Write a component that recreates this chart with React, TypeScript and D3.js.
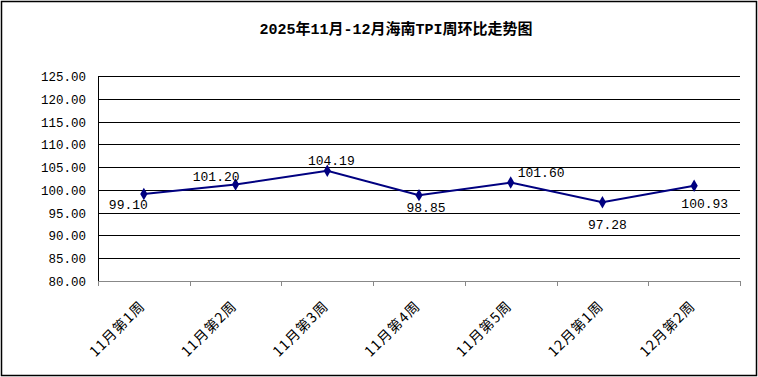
import React from "react";
import * as d3 from "d3";

const title = "2025年11月-12月海南TPI周环比走势图";
const categories = ["11月第1周", "11月第2周", "11月第3周", "11月第4周", "11月第5周", "12月第1周", "12月第2周"];
const values = [99.1, 101.2, 104.19, 98.85, 101.6, 97.28, 100.93];
const yTicks = [80, 85, 90, 95, 100, 105, 110, 115, 120, 125];
const labelPlacement = ["belowLeft", "aboveLeft", "above", "below", "right", "below2", "belowRight"];

const W = 758, H = 377;
const M = { left: 98, right: 740, top: 76, bottom: 281 };
const mono = "'SimSun', 'Liberation Mono', 'DejaVu Sans Mono', monospace";
const cjk = "'SimSun', 'Noto Sans CJK SC', serif";
const titleFont = "'SimSun', 'Liberation Mono', 'Noto Sans CJK SC', monospace";

export default function App() {
  const x = d3.scaleBand<string>().domain(categories).range([M.left, M.right]);
  const y = d3.scaleLinear().domain([80, 125]).range([M.bottom, M.top]);
  const cx = (c: string) => (x(c) as number) + x.bandwidth() / 2;
  const line = d3.line<number>().x((_, i) => cx(categories[i])).y((v) => y(v));
  const diamond = d3.symbol().type(d3.symbolDiamond).size(45)();
  const boundaries = d3.range(categories.length + 1).map((i) => M.left + i * x.bandwidth());

  const labelPos = (p: string, px: number, py: number) => {
    switch (p) {
      case "belowLeft": return { x: px + 4, y: py + 15, a: "end" };
      case "aboveLeft": return { x: px + 4, y: py - 3, a: "end" };
      case "above": return { x: px + 4, y: py - 6, a: "middle" };
      case "below": return { x: px + 7, y: py + 17, a: "middle" };
      case "below2": return { x: px + 5, y: py + 27, a: "middle" };
      case "right": return { x: px + 7, y: py - 6, a: "start" };
      case "belowRight": return { x: px + 34, y: py + 22, a: "end" };
      default: return { x: px, y: py - 6, a: "middle" };
    }
  };

  return (
    <svg width={W} height={H} style={{ position: "fixed", left: 0, top: 0, background: "#fff" }}>
      <rect x={1.5} y={1.5} width={W - 3} height={H - 3} fill="#fff" stroke="#000" strokeWidth={1.5} />
      <text x={396} y={34} textAnchor="middle" fontFamily={titleFont} fontSize={15} fontWeight="bold" fill="#000">{title}</text>
      {yTicks.slice(1).map((t) => (
        <line key={t} x1={M.left} x2={M.right} y1={Math.round(y(t)) + 0.5} y2={Math.round(y(t)) + 0.5} stroke="#000" strokeWidth={1} />
      ))}
      {yTicks.map((t) => (
        <text key={"l" + t} x={86} y={y(t) + 5} textAnchor="end" fontFamily={mono} fontSize={12.5} fill="#000">{t.toFixed(2)}</text>
      ))}
      <line x1={M.left + 0.5} x2={M.left + 0.5} y1={M.top} y2={M.bottom} stroke="#000" strokeWidth={1} />
      <line x1={M.left} x2={M.right} y1={M.bottom + 0.5} y2={M.bottom + 0.5} stroke="#888" strokeWidth={1} />
      {boundaries.map((b, i) => (
        <line key={"tk" + i} x1={Math.round(b) + 0.5} x2={Math.round(b) + 0.5} y1={M.bottom} y2={M.bottom + 5} stroke="#888" strokeWidth={1} />
      ))}
      {categories.map((c) => (
        <text key={c} transform={`translate(${cx(c) + 2},${M.bottom + 26}) rotate(-45)`} textAnchor="end" fontFamily={cjk} fontSize={14} letterSpacing={1} fill="#000">{c}</text>
      ))}
      <path d={line(values) || ""} fill="none" stroke="#000080" strokeWidth={2} />
      {values.map((v, i) => (
        <path key={"m" + i} d={diamond || ""} transform={`translate(${cx(categories[i])},${y(v)})`} fill="#000080" />
      ))}
      {values.map((v, i) => {
        const p = labelPos(labelPlacement[i], cx(categories[i]), y(v));
        return (
          <text key={"v" + i} x={p.x} y={p.y} textAnchor={p.a as any} fontFamily={mono} fontSize={13} fill="#000">{v.toFixed(2)}</text>
        );
      })}
    </svg>
  );
}
